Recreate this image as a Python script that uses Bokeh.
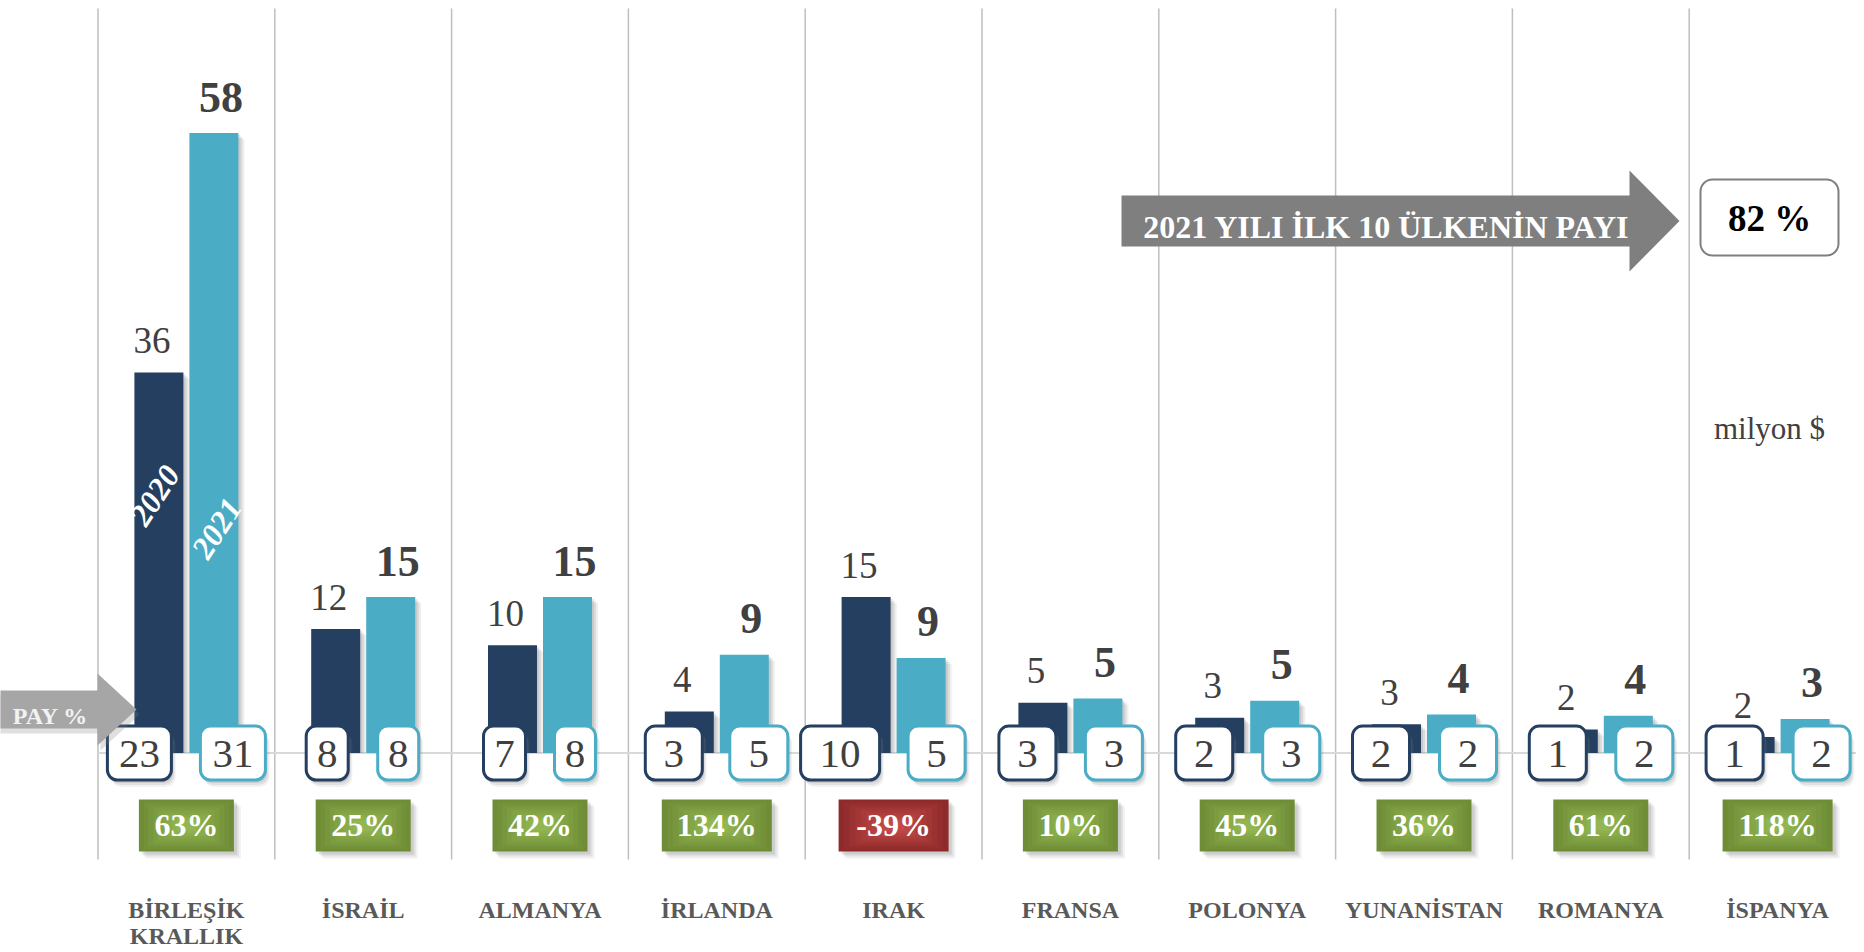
import numpy as np
from bokeh.plotting import figure
from bokeh.models import Range1d
from bokeh.core.properties import value
from bokeh.embed import file_html
from bokeh.resources import INLINE

# ---------------- data ----------------
countries = ["BİRLEŞİK\nKRALLIK", "İSRAİL", "ALMANYA", "İRLANDA", "IRAK",
             "FRANSA", "POLONYA", "YUNANİSTAN", "ROMANYA", "İSPANYA"]
exports_2020 = [35.6, 11.6, 10.1, 3.9, 14.6, 4.7, 3.3, 2.7, 2.2, 1.5]
exports_2021 = [58.0, 14.6, 14.6, 9.2, 8.9, 5.1, 4.9, 3.6, 3.5, 3.2]
share_2020 = [23, 8, 7, 3, 10, 3, 2, 2, 1, 1]
share_2021 = [31, 8, 8, 5, 5, 3, 3, 2, 2, 2]
growth = [63, 25, 42, 134, -39, 10, 45, 36, 61, 118]
years = ["2020", "2021"]
top10_title = "2021 YILI İLK 10 ÜLKENİN PAYI"
top10_share = "82 %"
unit_label = "milyon $"
share_label = "PAY %"

# ---------------- layout (pixels) ----------------
PX = 176.8      # px per category
PY = 10.69      # px per unit
X0 = 97.5       # x of first category border
Y0 = 752.6      # y of zero line
W, H = 1856, 950

def X(px): return (px - X0) / PX
def Y(py): return (Y0 - py) / PY
def dx(px): return px / PX
def dy(px): return px / PY

NAVY = "#243f60"
TEAL = "#4bacc6"
TXT = "#404040"
FONT = value("Liberation Serif")

box_off_2020 = [47, 36, 35.5, 43, 53.5, 43, 43, 43, 43, 43]
box_off_2021 = [46.5, 35, 35, 42, 43, 43.5, 44, 44, 43.5, 44]
box_w_2020 = [64, 42, 42, 57, 79, 57, 57, 57, 57, 57]
box_w_2021 = [65, 41, 41, 58, 57, 57, 57, 57, 57, 57]
BOX_H = 54

p = figure(width=W, height=H,
           x_range=Range1d(X(0), X(W)), y_range=Range1d(Y(H), Y(0)),
           output_backend="svg", toolbar_location=None, min_border=0,
           x_axis_type=None, y_axis_type=None)
p.grid.visible = False
p.outline_line_color = None
p.background_fill_color = "white"
p.border_fill_color = "white"

n = len(countries)
cx = np.arange(n) + 0.5

# separators and zero line
p.segment(x0=np.arange(n), y0=Y(8), x1=np.arange(n), y1=Y(859),
          line_color="#bfbfbf", line_width=1.5)
p.segment(x0=[0], y0=[0], x1=[n], y1=[0], line_color="#d9d9d9", line_width=2)

# bars
bo = dx(27.5)
bw = dx(49)
v20 = np.array(exports_2020)
v21 = np.array(exports_2021)
for sh, a in [(6, 0.12), (4, 0.18), (2, 0.2)]:
    p.vbar(x=cx - bo + dx(sh), top=v20 - dy(sh), bottom=0, width=bw,
           fill_color="#7f7f7f", fill_alpha=a, line_color=None)
    p.vbar(x=cx + bo + dx(sh), top=v21 - dy(sh), bottom=0, width=bw,
           fill_color="#7f7f7f", fill_alpha=a, line_color=None)
p.vbar(x=cx - bo, top=v20, bottom=0, width=bw, fill_color=NAVY, line_color=None)
p.vbar(x=cx + bo, top=v21, bottom=0, width=bw, fill_color=TEAL, line_color=None)

def rnd(v):
    return str(int(np.floor(v + 0.5)))

p.text(x=cx - bo, y=v20, text=[rnd(v) for v in v20], x_offset=-7, y_offset=-32,
       text_font=FONT, text_font_size="37px", text_color=TXT,
       text_align="center", text_baseline="middle")
p.text(x=cx + bo, y=v21, text=[rnd(v) for v in v21], x_offset=7, y_offset=-36,
       text_font=FONT, text_font_size="44px", text_font_style="bold", text_color=TXT,
       text_align="center", text_baseline="middle")

# year labels inside first pair of bars
p.text(x=[cx[0] - bo, cx[0] + bo], y=[Y(495), Y(528)], text=years,
       x_offset=[-4, 3], angle=np.deg2rad(57),
       text_font=FONT, text_font_size="32px", text_font_style="bold italic",
       text_color="white", text_align="center", text_baseline="middle")

# share boxes
def boxes(centers, widths, color):
    c = np.array(centers)
    w = np.array([dx(v) for v in widths])
    for sh, a in [(7, 0.10), (5, 0.15), (3, 0.2)]:
        p.quad(left=c - w / 2 + dx(sh * 0.6), right=c + w / 2 + dx(sh * 0.6),
               top=dy(BOX_H / 2) - dy(sh), bottom=-dy(BOX_H / 2) - dy(sh),
               fill_color="#7f7f7f", fill_alpha=a, line_color=None, border_radius=10)
    p.quad(left=c - w / 2, right=c + w / 2, top=dy(BOX_H / 2), bottom=-dy(BOX_H / 2),
           fill_color="white", line_color=color, line_width=3, border_radius=10)

c20 = cx - np.array([dx(v) for v in box_off_2020])
c21 = cx + np.array([dx(v) for v in box_off_2021])
boxes(c20, box_w_2020, NAVY)
boxes(c21, box_w_2021, TEAL)
p.text(x=c20, y=0, text=[str(s) for s in share_2020], y_offset=1,
       text_font=FONT, text_font_size="41px", text_color=TXT,
       text_align="center", text_baseline="middle")
p.text(x=c21, y=0, text=[str(s) for s in share_2021], y_offset=1,
       text_font=FONT, text_font_size="41px", text_color=TXT,
       text_align="center", text_baseline="middle")

# growth boxes with radial-like shading
def lerp(c1, c2, t):
    a = [int(c1[i:i + 2], 16) for i in (1, 3, 5)]
    b = [int(c2[i:i + 2], 16) for i in (1, 3, 5)]
    return "#%02x%02x%02x" % tuple(int(round(a[k] + (b[k] - a[k]) * t)) for k in range(3))

gtxt = [f"{g}%" for g in growth]
gy_top, gy_bot = Y(799), Y(851)
gyc = (gy_top + gy_bot) / 2
gh = gy_top - gy_bot
for i, g in enumerate(growth):
    w = dx(95 if len(gtxt[i]) <= 3 else 110)
    edge, center = ("#6f8c36", "#92b651") if g >= 0 else ("#8e2a2a", "#c24a48")
    for sh, a in [(7, 0.10), (5, 0.15), (3, 0.2)]:
        p.quad(left=cx[i] - w / 2 + dx(sh), right=cx[i] + w / 2 + dx(sh),
               top=gy_top - dy(sh), bottom=gy_bot - dy(sh),
               fill_color="#7f7f7f", fill_alpha=a, line_color=None)
    steps = 9
    for k in range(steps):
        t = k / (steps - 1)
        s = 1 - 0.8 * t
        p.quad(left=cx[i] - w * s / 2, right=cx[i] + w * s / 2,
               top=gyc + gh * s / 2, bottom=gyc - gh * s / 2,
               fill_color=lerp(edge, center, t), line_color=None)
p.text(x=cx, y=Y(824), text=gtxt, text_font=FONT, text_font_size="32px",
       text_font_style="bold", text_color="white", text_align="center",
       text_baseline="middle")

# country labels
for i, name in enumerate(countries):
    for j, line in enumerate(name.split("\n")):
        p.text(x=[cx[i]], y=[Y(909 + 26 * j)], text=[line], text_font=FONT,
               text_font_size="24px", text_font_style="bold", text_color="#595959",
               text_align="center", text_baseline="middle")

# PAY % arrow
ax = [X(-20), X(97), X(97), X(136), X(97), X(97), X(-20)]
ay = [Y(690), Y(690), Y(673), Y(709), Y(745), Y(728), Y(728)]
p.patch(x=[v + dx(3) for v in ax], y=[v - dy(5) for v in ay],
        fill_color="#7f7f7f", fill_alpha=0.25, line_color=None)
p.patch(x=ax, y=ay, fill_color="#a6a6a6", line_color=None)
p.text(x=[X(50)], y=[Y(715)], text=[share_label], text_font=FONT,
       text_font_size="24px", text_font_style="bold", text_color="#f2f2f2",
       text_align="center", text_baseline="middle")

# big arrow
bx = [X(1121), X(1629), X(1629), X(1679), X(1629), X(1629), X(1121)]
by = [Y(195), Y(195), Y(170), Y(220.5), Y(271), Y(246), Y(246)]
p.patch(x=bx, y=by, fill_color="#7f7f7f", line_color=None)
p.text(x=[X(1386)], y=[Y(226)], text=[top10_title], text_font=FONT,
       text_font_size="32px", text_font_style="bold", text_color="white",
       text_align="center", text_baseline="middle")

# 82 % box
p.quad(left=[X(1700)], right=[X(1838)], top=[Y(179)], bottom=[Y(255)],
       fill_color="white", line_color="#7f7f7f", line_width=2, border_radius=12)
p.text(x=[X(1769)], y=[Y(217.5)], text=[top10_share], text_font=FONT,
       text_font_size="37px", text_font_style="bold", text_color="black",
       text_align="center", text_baseline="middle")

# unit label
p.text(x=[X(1769)], y=[Y(428)], text=[unit_label], text_font=FONT,
       text_font_size="31px", text_color=TXT, text_align="center",
       text_baseline="middle")

open("out.html", "w").write(file_html(p, INLINE))
